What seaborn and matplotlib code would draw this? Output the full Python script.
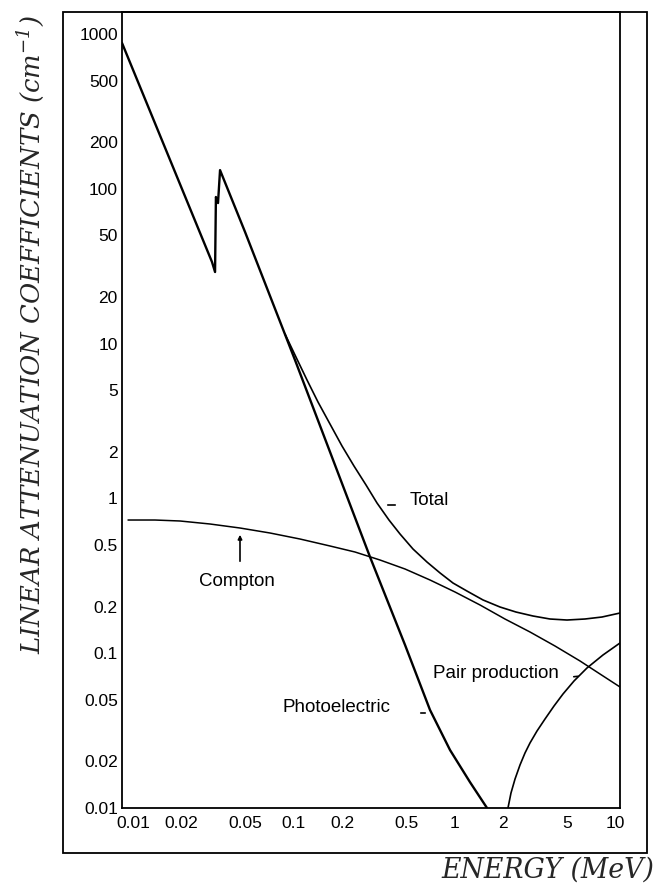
import matplotlib
matplotlib.use("Agg")
import matplotlib.pyplot as plt
import seaborn as sns
import pandas as pd
from matplotlib.patches import Rectangle

# ---------------- data ----------------
photo_E = [0.00854, 0.0310, 0.0324, 0.0328, 0.0338, 0.0348, 0.0498, 0.1019,
           0.2986, 0.493, 0.705, 0.939, 1.25, 1.596]
photo_mu = [875, 33.7, 29.0, 88.5, 80.9, 132, 52.6, 7.83,
            0.418, 0.113, 0.0430, 0.0237, 0.0147, 0.010]

total_E = [0.08826, 0.1033, 0.1210, 0.1416, 0.1682, 0.1998, 0.2372, 0.2818, 0.3299,
           0.3917, 0.4587, 0.5526, 0.6754, 0.8137, 0.9802, 1.198, 1.507, 1.922,
           2.417, 3.084, 3.934, 5.020, 6.497, 8.288, 10.73]
total_mu = [11.53, 8.19, 5.82, 4.196, 3.024, 2.180, 1.619, 1.221, 0.934,
            0.725, 0.589, 0.471, 0.388, 0.330, 0.284, 0.252, 0.2207, 0.1988,
            0.1845, 0.1739, 0.1663, 0.1638, 0.1663, 0.1713, 0.1818]

compton_E = [0.00931, 0.01370, 0.01962, 0.03014, 0.04634, 0.07120, 0.1094, 0.1682,
             0.2407, 0.3443, 0.4928, 0.7050, 1.009, 1.443, 2.064, 2.954, 4.227,
             6.047, 8.054, 10.73]
compton_mu = [0.725, 0.725, 0.7145, 0.6833, 0.6437, 0.5977, 0.5466, 0.4927,
              0.4505, 0.4000, 0.3499, 0.2971, 0.2485, 0.2049, 0.1663, 0.1371, 0.1113,
              0.0891, 0.0734, 0.0605]

pair_E = [2.155, 2.250, 2.384, 2.560, 2.750, 2.954, 3.266, 3.663, 4.167, 4.740,
          5.550, 6.685, 8.407, 10.73]
pair_mu = [0.010, 0.01250, 0.01539, 0.01896, 0.02266, 0.02630, 0.03143, 0.03757,
           0.04558, 0.05450, 0.06613, 0.08025, 0.09736, 0.1164]

x_ticks = [0.01, 0.02, 0.05, 0.1, 0.2, 0.5, 1, 2, 5, 10]
x_tick_labels = ["0.01", "0.02", "0.05", "0.1", "0.2", "0.5", "1", "2", "5", "10"]
y_ticks = [0.01, 0.02, 0.05, 0.1, 0.2, 0.5, 1, 2, 5, 10, 20, 50, 100, 200, 500, 1000]
y_tick_labels = ["0.01", "0.02", "0.05", "0.1", "0.2", "0.5", "1", "2", "5", "10",
                 "20", "50", "100", "200", "500", "1000"]

# ---------------- style ----------------
sns.set_style("white")
plt.rcParams['font.family'] = ['Liberation Sans', 'DejaVu Sans']
plt.rcParams['mathtext.fontset'] = 'custom'
plt.rcParams['mathtext.it'] = 'DejaVu Serif:italic'
plt.rcParams['mathtext.rm'] = 'DejaVu Serif:italic'

W, H = 656, 886
fig = plt.figure(figsize=(W / 100, H / 100), dpi=100)
fig.patch.set_facecolor('white')


def fp(x, y):
    return (x / W, 1 - y / H)


ax = fig.add_axes([122 / W, 1 - 808 / H, (620 - 122) / W, (808 - 12) / H])
ax.set_xscale('log')
ax.set_yscale('log')

series = [
    (photo_E, photo_mu, 1.7),
    (total_E, total_mu, 1.2),
    (compton_E, compton_mu, 1.1),
    (pair_E, pair_mu, 1.2),
]
for E, mu, lw in series:
    df = pd.DataFrame({"E": E, "mu": mu})
    sns.lineplot(data=df, x="E", y="mu", ax=ax, sort=False, estimator=None,
                 color='black', linewidth=lw)

ax.set_xlim(0.00854, 10.73)
ax.set_ylim(0.01, 1387)
ax.set_xticks(x_ticks)
ax.set_xticklabels(x_tick_labels)
ax.set_yticks(y_ticks)
ax.set_yticklabels(y_tick_labels)
ax.minorticks_off()
ax.tick_params(axis='both', length=0, labelsize=12.5, colors='black')
ax.tick_params(axis='x', pad=6)
ax.tick_params(axis='y', pad=3)
ax.set_xlabel("")
ax.set_ylabel("")
for s in ax.spines.values():
    s.set_visible(True)
    s.set_color('black')
    s.set_linewidth(1.3)

# outer frame
fig.add_artist(Rectangle(fp(63, 853), (647 - 63) / W, (853 - 12) / H,
                         transform=fig.transFigure, fill=False, ec='black', lw=1.3))

# axis titles
fig.text(*fp(31, 335), r"LINEAR ATTENUATION COEFFICIENTS (cm$^{-1}$)", rotation=90,
         ha='center', va='center', fontsize=18.6, family='DejaVu Serif', style='italic')
fig.text(*fp(654, 870), "ENERGY (MeV)", ha='right', va='center', fontsize=19.3,
         family='DejaVu Serif', style='italic')

# curve labels
lab_kw = dict(fontsize=13.5, va='center', color='black')
fig.text(*fp(410, 500), "Total", ha='left', **lab_kw)
fig.text(*fp(237, 582), "Compton", ha='center', **lab_kw)
fig.text(*fp(282, 708), "Photoelectric", ha='left', **lab_kw)
fig.text(*fp(433, 673), "Pair production", ha='left', **lab_kw)

lk = dict(xycoords='figure fraction', textcoords='figure fraction')
ax.annotate("", xy=fp(385, 505), xytext=fp(398, 505),
            arrowprops=dict(arrowstyle='-', lw=1.2, color='black'), **lk)
ax.annotate("", xy=fp(240, 532), xytext=fp(240, 564),
            arrowprops=dict(arrowstyle='-|>', lw=1.2, color='black', mutation_scale=6), **lk)
ax.annotate("", xy=fp(418, 713), xytext=fp(428, 713),
            arrowprops=dict(arrowstyle='-', lw=1.2, color='black'), **lk)
ax.annotate("", xy=fp(581, 676), xytext=fp(571, 677),
            arrowprops=dict(arrowstyle='-', lw=1.2, color='black'), **lk)

fig.savefig("out.png", dpi=100, facecolor='white')
